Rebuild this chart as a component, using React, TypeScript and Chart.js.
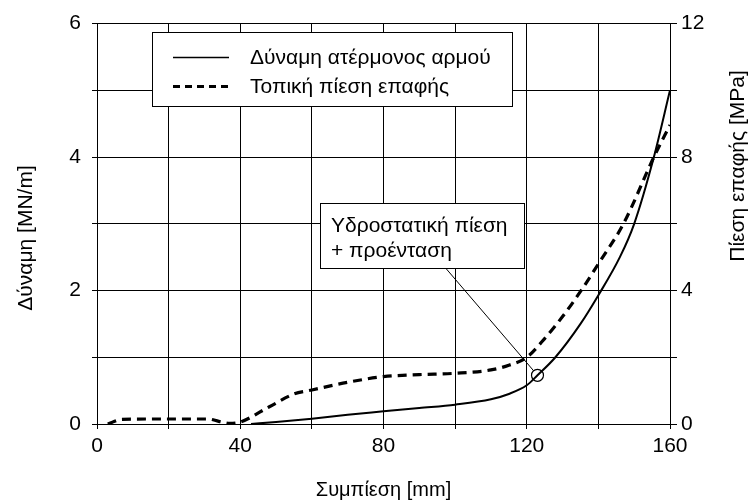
import React, { useEffect, useRef } from "react";
import { Chart, registerables } from "chart.js";

Chart.register(...registerables);

// ---- data ----
const xForce = [43, 50, 60, 70, 80, 90, 100, 110, 115, 120, 123, 128, 135, 140, 146, 150, 155.5, 160];
const yForce = [0, 0.03, 0.08, 0.14, 0.19, 0.24, 0.29, 0.37, 0.45, 0.58, 0.73, 1.0, 1.5, 1.93, 2.5, 3.0, 4.0, 5.0];

const xPress = [3, 7, 15, 25, 31, 34, 37, 40, 48, 55, 60, 70, 80, 90, 100, 110, 115, 120, 125, 130, 135.5, 140, 147, 155.5, 160];
const yPress = [0, 0.14, 0.15, 0.15, 0.15, 0.08, 0.02, 0.06, 0.51, 0.9, 1.02, 1.25, 1.42, 1.48, 1.52, 1.62, 1.76, 2.0, 2.56, 3.22, 4.05, 4.8, 6.0, 8.0, 8.96];

const xMark = [123];
const yMark = [0.73];

const seriesLabels = ["Δύναμη ατέρμονος αρμού", "Τοπική πίεση επαφής"];
const annotationLines = ["Υδροστατική πίεση", "+ προένταση"];
const xTitle = "Συμπίεση [mm]";
const yTitle = "Δύναμη [MN/m]";
const y2Title = "Πίεση επαφής [MPa]";

const FONT = "'Liberation Sans', Arial, sans-serif";

const overlayPlugin = {
  id: "overlay",
  afterDatasetsDraw(chart: any) {
    const ctx = chart.ctx as CanvasRenderingContext2D;
    const ca = chart.chartArea;
    const xs = chart.scales.x;
    const ys = chart.scales.y;
    ctx.save();

    // Legend box
    const lx = 152.5, ly = 32.5, lw = 360, lh = 74;
    ctx.fillStyle = "#fff";
    ctx.fillRect(lx, ly, lw, lh);
    ctx.strokeStyle = "#000";
    ctx.lineWidth = 1;
    ctx.strokeRect(lx, ly, lw, lh);
    const rows = [57.5, 86.5];
    chart.data.datasets.slice(0, 2).forEach((ds: any, i: number) => {
      ctx.beginPath();
      ctx.lineWidth = i === 1 ? 3 : 1.6;
      ctx.setLineDash(i === 1 ? [7, 5] : []);
      ctx.moveTo(173, rows[i]);
      ctx.lineTo(229, rows[i]);
      ctx.stroke();
      ctx.setLineDash([]);
      ctx.fillStyle = "#000";
      ctx.font = `21px ${FONT}`;
      ctx.textAlign = "left";
      ctx.textBaseline = "middle";
      ctx.fillText(ds.label, 250, rows[i] + 1);
    });

    // Annotation leader line + box
    const px = xs.getPixelForValue(xMark[0]);
    const py = ys.getPixelForValue(yMark[0]);
    const bx = 320.5, by = 203.5, bw = 204, bh = 65;
    const ax = 446, ay = by + bh;
    const dx = px - ax, dy = py - ay;
    const d = Math.sqrt(dx * dx + dy * dy);
    ctx.beginPath();
    ctx.lineWidth = 1;
    ctx.strokeStyle = "#000";
    ctx.moveTo(ax, ay);
    ctx.lineTo(px - (dx / d) * 6, py - (dy / d) * 6);
    ctx.stroke();
    ctx.fillStyle = "#fff";
    ctx.fillRect(bx, by, bw, bh);
    ctx.strokeRect(bx, by, bw, bh);
    ctx.fillStyle = "#000";
    ctx.font = `21px ${FONT}`;
    ctx.textAlign = "left";
    ctx.textBaseline = "middle";
    ctx.fillText(annotationLines[0], 331, 226);
    ctx.fillText(annotationLines[1], 331, 251);

    // Axis titles
    ctx.font = `20px ${FONT}`;
    ctx.textAlign = "center";
    ctx.textBaseline = "middle";
    ctx.fillText(xTitle, (ca.left + ca.right) / 2, 490);
    ctx.font = `21px ${FONT}`;
    ctx.save();
    ctx.translate(26, 238);
    ctx.rotate(-Math.PI / 2);
    ctx.fillText(yTitle, 0, 0);
    ctx.restore();
    ctx.save();
    ctx.translate(738, 166);
    ctx.rotate(-Math.PI / 2);
    ctx.fillText(y2Title, 0, 0);
    ctx.restore();

    ctx.restore();
  },
};

export default function App() {
  const ref = useRef<HTMLCanvasElement | null>(null);
  useEffect(() => {
    if (!ref.current) return;
    Chart.defaults.font.family = FONT;
    const tickFont = { size: 21, family: FONT };
    const chart = new Chart(ref.current, {
      type: "line",
      data: {
        datasets: [
          {
            label: seriesLabels[0],
            data: xForce.map((x, i) => ({ x, y: yForce[i] })),
            borderColor: "#000",
            borderWidth: 2,
            pointRadius: 0,
            fill: false,
            cubicInterpolationMode: "monotone",
            yAxisID: "y",
          },
          {
            label: seriesLabels[1],
            data: xPress.map((x, i) => ({ x, y: yPress[i] })),
            borderColor: "#000",
            borderWidth: 3.2,
            borderDash: [9, 6],
            pointRadius: 0,
            fill: false,
            cubicInterpolationMode: "monotone",
            yAxisID: "y2",
          },
          {
            label: "marker",
            data: xMark.map((x, i) => ({ x, y: yMark[i] })),
            borderColor: "#000",
            backgroundColor: "rgba(0,0,0,0)",
            borderWidth: 1.2,
            pointRadius: 6,
            pointStyle: "circle",
            showLine: false,
            yAxisID: "y",
          },
        ],
      },
      options: {
        responsive: false,
        animation: false,
        layout: { padding: { top: 17, left: 0, right: 0, bottom: 0 } },
        plugins: { legend: { display: false }, tooltip: { enabled: false } },
        scales: {
          x: {
            type: "linear",
            min: 0,
            max: 160,
            grid: { color: "#000", lineWidth: 1, tickLength: 5, tickColor: "#000" },
            border: { color: "#000", width: 1 },
            ticks: {
              stepSize: 20,
              autoSkip: false,
              maxRotation: 0,
              color: "#000",
              font: tickFont,
              padding: 5,
              callback: (v: any) => (Number(v) % 40 === 0 ? String(v) : ""),
            },
            afterFit: (s: any) => {
              s.height = 80;
            },
          },
          y: {
            position: "left",
            min: 0,
            max: 6,
            grid: { color: "#000", lineWidth: 1, tickLength: 5, tickColor: "#000" },
            border: { color: "#000", width: 1 },
            ticks: {
              stepSize: 1,
              color: "#000",
              font: tickFont,
              padding: 11,
              callback: (v: any) => (Number(v) % 2 === 0 ? String(v) : ""),
            },
            afterFit: (s: any) => {
              s.width = 97;
            },
          },
          y2: {
            position: "right",
            min: 0,
            max: 12,
            grid: { drawOnChartArea: false, color: "#000", lineWidth: 1, tickLength: 7, tickColor: "#000" },
            border: { color: "#000", width: 1 },
            ticks: {
              stepSize: 2,
              color: "#000",
              font: tickFont,
              padding: 4,
              callback: (v: any) => (Number(v) % 4 === 0 ? String(v) : ""),
            },
            afterFit: (s: any) => {
              s.width = 82;
            },
          },
        },
      },
      plugins: [overlayPlugin],
    });
    return () => chart.destroy();
  }, []);
  return (
    <div style={{ position: "absolute", left: 0, top: 0, width: 752, height: 504, background: "#fff" }}>
      <canvas ref={ref} width={752} height={504} />
    </div>
  );
}
